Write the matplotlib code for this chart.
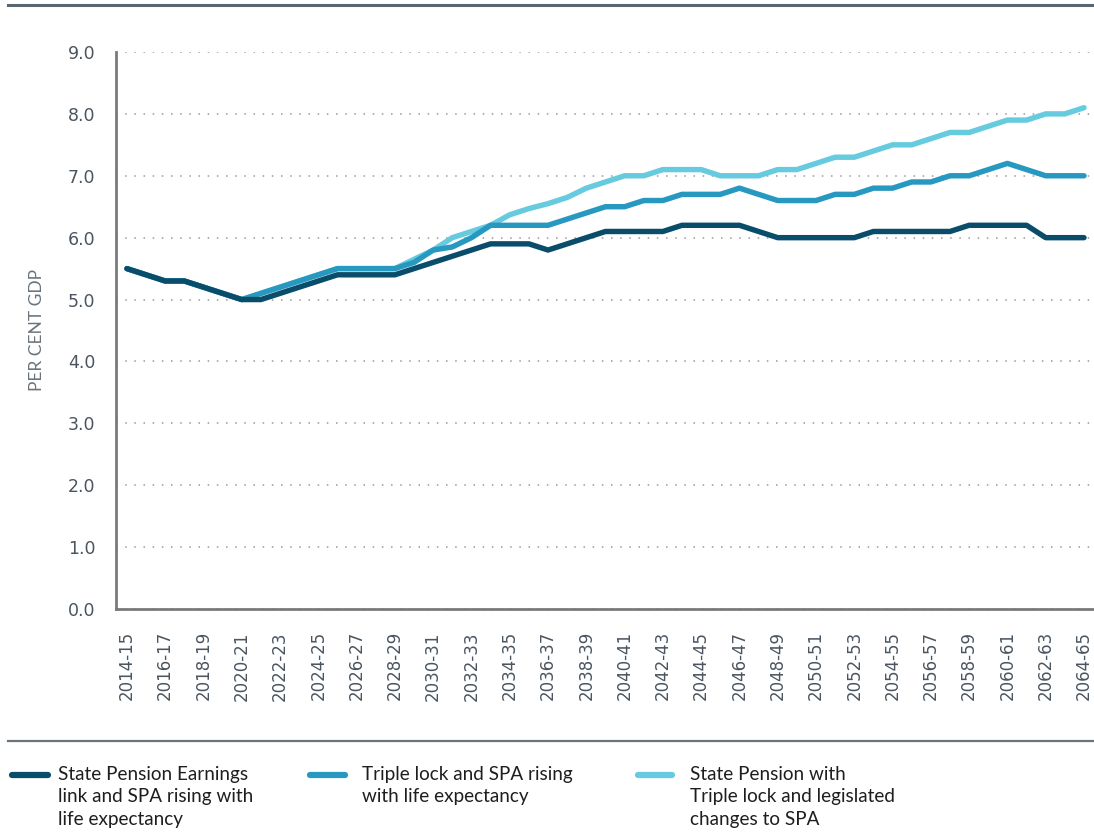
import matplotlib
matplotlib.use("Agg")
import matplotlib.pyplot as plt
from matplotlib.lines import Line2D

years = [f"{y}-{str(y+1)[-2:]}" for y in range(2014, 2065)]

earnings_link = [5.5, 5.4, 5.3, 5.3, 5.2, 5.1, 5.0, 5.0, 5.1, 5.2,
                 5.3, 5.4, 5.4, 5.4, 5.4, 5.5, 5.6, 5.7, 5.8, 5.9,
                 5.9, 5.9, 5.8, 5.9, 6.0, 6.1, 6.1, 6.1, 6.1, 6.2,
                 6.2, 6.2, 6.2, 6.1, 6.0, 6.0, 6.0, 6.0, 6.0, 6.1,
                 6.1, 6.1, 6.1, 6.1, 6.2, 6.2, 6.2, 6.2, 6.0, 6.0, 6.0]

triple_lock_spa = [5.5, 5.4, 5.3, 5.3, 5.2, 5.1, 5.0, 5.1, 5.2, 5.3,
                   5.4, 5.5, 5.5, 5.5, 5.5, 5.6, 5.8, 5.85, 6.0, 6.2,
                   6.2, 6.2, 6.2, 6.3, 6.4, 6.5, 6.5, 6.6, 6.6, 6.7,
                   6.7, 6.7, 6.8, 6.7, 6.6, 6.6, 6.6, 6.7, 6.7, 6.8,
                   6.8, 6.9, 6.9, 7.0, 7.0, 7.1, 7.2, 7.1, 7.0, 7.0, 7.0]

triple_lock_legislated = [5.5, 5.4, 5.3, 5.3, 5.2, 5.1, 5.0, 5.1, 5.2, 5.3,
                          5.4, 5.5, 5.5, 5.5, 5.5, 5.65, 5.8, 6.0, 6.1, 6.2,
                          6.37, 6.47, 6.55, 6.65, 6.8, 6.9, 7.0, 7.0, 7.1, 7.1,
                          7.1, 7.0, 7.0, 7.0, 7.1, 7.1, 7.2, 7.3, 7.3, 7.4,
                          7.5, 7.5, 7.6, 7.7, 7.7, 7.8, 7.9, 7.9, 8.0, 8.0, 8.1]

labels = ["State Pension Earnings\nlink and SPA rising with\nlife expectancy",
          "Triple lock and SPA rising\nwith life expectancy",
          "State Pension with\nTriple lock and legislated\nchanges to SPA"]
colors = ["#0a4d6b", "#2798bf", "#66cbdf"]

W, H = 1094, 832
fig = plt.figure(figsize=(W / 100, H / 100), dpi=100)
ax = fig.add_axes([116 / W, 1 - 609 / H, (1093 - 116) / W, (609 - 52) / H])

x = list(range(len(years)))
series = [earnings_link, triple_lock_spa, triple_lock_legislated]
for s, c, z in zip(series[::-1], colors[::-1], [2, 3, 4]):
    ax.plot(x, s, color=c, lw=3.9, solid_capstyle="round", solid_joinstyle="round", zorder=z)

ax.set_xlim(-0.57, 50.47)
ax.set_ylim(0, 9)
ax.set_yticks([i for i in range(10)])
ax.set_yticklabels([f"{i:.1f}" for i in range(10)])
ax.set_xticks(x[::2])
ax.set_xticklabels(years[::2], rotation=90)

tick_color = "#4a5560"
ax.tick_params(axis="y", length=0, pad=15, labelsize=12.5, labelcolor=tick_color,
               labelfontfamily="DejaVu Sans")
ax.tick_params(axis="x", length=0, pad=16, labelsize=12, labelcolor=tick_color,
               labelfontfamily="DejaVu Sans")

ax.grid(axis="y", color="#9a9a9a", linestyle=(0, (1, 5)), linewidth=1.1)
ax.set_axisbelow(True)
for sp in ["top", "right"]:
    ax.spines[sp].set_visible(False)
for sp in ["left", "bottom"]:
    ax.spines[sp].set_color("#7a7a7a")
    ax.spines[sp].set_linewidth(2)

fig.text(37 / W, 1 - 330 / H, "PER CENT GDP", rotation=90, ha="center", va="center",
         fontsize=12.5, color="#6a737a", family="Lato")

# horizontal rules
fig.add_artist(Line2D([8 / W, 1.0], [1 - 5 / H, 1 - 5 / H], transform=fig.transFigure,
                      color="#5a6670", lw=2.2))
fig.add_artist(Line2D([8 / W, 1.0], [1 - 741 / H, 1 - 741 / H], transform=fig.transFigure,
                      color="#6a747c", lw=1.6))

# legend
leg_pos = [(12, 48, 58), (310, 345, 362), (638, 672, 690)]
for (x0, x1, tx), lab, c in zip(leg_pos, labels, colors):
    fig.add_artist(Line2D([x0 / W, x1 / W], [1 - 775 / H, 1 - 775 / H], transform=fig.transFigure,
                          color=c, lw=4.5, solid_capstyle="round"))
    fig.text(tx / W, 1 - 766 / H, lab, ha="left", va="top", fontsize=13.6,
             color="#1e1e1e", family="Lato", linespacing=1.38)

fig.savefig("out.png", dpi=100)
